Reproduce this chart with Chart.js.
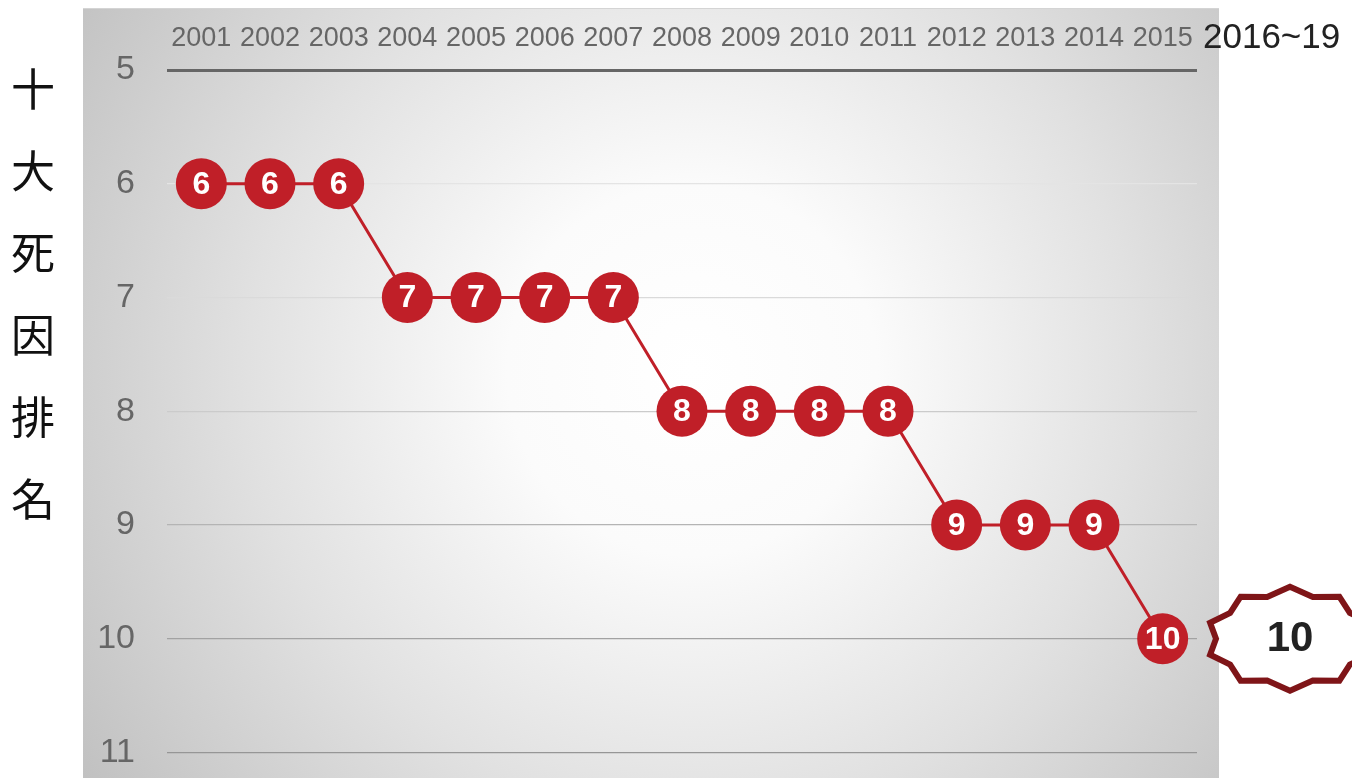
<!DOCTYPE html>
<html lang="zh-Hant">
<head>
<meta charset="utf-8">
<title>十大死因排名</title>
<script src="https://cdn.jsdelivr.net/npm/chart.js@4/dist/chart.umd.min.js"></script>
<style>
    html, body { margin: 0; padding: 0; background: #fff; }
    #wrap { position: relative; width: 1352px; height: 778px; overflow: hidden; }
    #title {
        position: absolute; left: 0; top: 46px; width: 66px;
        font-family: "Noto Sans CJK TC", "Noto Sans CJK SC", sans-serif;
        font-size: 44px; font-weight: 400; line-height: 82px;
        color: #111; text-align: center; z-index: 2;
    }
    canvas { position: absolute; left: 0; top: 0; }
</style>
</head>
<body>
<div id="wrap">
    <div id="title">十<br>大<br>死<br>因<br>排<br>名</div>
    <canvas id="rankChart"></canvas>
</div>
<script>
const years = ['2001', '2002', '2003', '2004', '2005', '2006', '2007', '2008',
    '2009', '2010', '2011', '2012', '2013', '2014', '2015'];
const ranks = [6, 6, 6, 7, 7, 7, 7, 8, 8, 8, 8, 9, 9, 9, 10];
const projectedLabel = '2016~19';
const projectedRank = 10;
const rankTicks = [5, 6, 7, 8, 9, 10, 11];

const RED = '#c01f28';
const DARK_RED = '#7f1518';
const FONT = '"Liberation Sans", Arial, sans-serif';

// grid line shade per rank (lines get darker toward the bottom)
const gridShade = { 5: '#666666', 6: '#e4e4e4', 7: '#dadada', 8: '#cbcbcb', 9: '#b4b4b4', 10: '#a2a2a2', 11: '#969696' };

const panelPlugin = {
    id: 'panel',
    beforeDraw(chart) {
        const { ctx, chartArea, height } = chart;
        const x0 = chartArea.left - 84;
        const x1 = chartArea.right + 22;
        const cx = chartArea.left + (chartArea.right - chartArea.left) * 0.51;
        const cy = 370;
        const g = ctx.createRadialGradient(cx, cy, 0, cx, cy, 740);
        g.addColorStop(0, '#ffffff');
        g.addColorStop(0.25, '#fbfbfb');
        g.addColorStop(0.6, '#e1e1e1');
        g.addColorStop(1, '#c0c0c0');
        ctx.save();
        ctx.fillStyle = g;
        ctx.fillRect(x0, 8, x1 - x0, height - 8);
        ctx.fillStyle = '#d4d4d4';
        ctx.fillRect(x0, 8, x1 - x0, 1);
        ctx.restore();
    }
};

const pointLabelPlugin = {
    id: 'pointLabels',
    afterDatasetsDraw(chart) {
        const { ctx } = chart;
        const meta = chart.getDatasetMeta(0);
        ctx.save();
        ctx.fillStyle = '#ffffff';
        ctx.font = 'bold 32px ' + FONT;
        ctx.textAlign = 'center';
        ctx.textBaseline = 'middle';
        meta.data.forEach((pt, i) => {
            ctx.fillText(String(ranks[i]), pt.x, pt.y + 1);
        });
        ctx.restore();
    }
};

// projected rank: year-range label and star badge right of the plot
const projectionPlugin = {
    id: 'projection',
    afterDraw(chart) {
        const { ctx, chartArea, scales } = chart;
        ctx.save();
        ctx.fillStyle = '#222';
        ctx.font = '35px ' + FONT;
        ctx.textAlign = 'left';
        ctx.textBaseline = 'middle';
        ctx.fillText(projectedLabel, chartArea.right + 6, 38);

        const cx = chartArea.right + 93;
        const cy = scales.y.getPixelForValue(projectedRank);
        const n = 10;
        ctx.beginPath();
        for (let k = 0; k < n * 2; k++) {
            const a = Math.PI / 2 + k * Math.PI / n;
            const outer = k % 2 === 0;
            const rx = outer ? 84 : 74;
            const ry = outer ? 52 : 44;
            const px = cx + Math.cos(a) * rx;
            const py = cy - Math.sin(a) * ry;
            if (k === 0) ctx.moveTo(px, py); else ctx.lineTo(px, py);
        }
        ctx.closePath();
        ctx.fillStyle = '#ffffff';
        ctx.fill();
        ctx.lineWidth = 6;
        ctx.lineJoin = 'miter';
        ctx.strokeStyle = DARK_RED;
        ctx.stroke();

        ctx.fillStyle = '#222';
        ctx.font = 'bold 42px ' + FONT;
        ctx.textAlign = 'center';
        ctx.fillText(String(projectedRank), cx, cy + 1);
        ctx.restore();
    }
};

const ctx = document.getElementById('rankChart').getContext('2d');
new Chart(ctx, {
    type: 'line',
    data: {
        labels: years,
        datasets: [{
            data: ranks,
            borderColor: RED,
            borderWidth: 3,
            backgroundColor: RED,
            pointRadius: 25.5,
            pointHoverRadius: 25.5,
            pointBackgroundColor: RED,
            pointBorderWidth: 0,
            tension: 0,
            clip: false
        }]
    },
    options: {
        responsive: true,
        maintainAspectRatio: false,
        animation: false,
        devicePixelRatio: 1,
        layout: { padding: { left: 0, top: 0, right: 155, bottom: 25 } },
        plugins: {
            legend: { display: false },
            tooltip: { enabled: false }
        },
        scales: {
            x: {
                position: 'top',
                offset: true,
                afterFit: s => { s.height = 70; },
                grid: { display: false, drawTicks: false },
                border: { display: false },
                ticks: {
                    color: '#666',
                    font: { family: FONT, size: 27 },
                    padding: 15,
                    autoSkip: false,
                    maxRotation: 0
                }
            },
            y: {
                reverse: true,
                min: rankTicks[0],
                max: rankTicks[rankTicks.length - 1],
                afterFit: s => {
                    s.width = 167;
                    s.paddingTop = 0;
                    s.paddingBottom = 0;
                },
                afterBuildTicks: s => { s.ticks = rankTicks.map(v => ({ value: v })); },
                grid: {
                    drawTicks: false,
                    color: c => gridShade[c.tick.value] || '#ccc',
                    lineWidth: c => (c.tick.value === rankTicks[0] ? 3 : 1.2)
                },
                border: { display: false },
                ticks: {
                    color: '#666',
                    font: { family: FONT, size: 34 },
                    padding: 32
                }
            }
        }
    },
    plugins: [panelPlugin, pointLabelPlugin, projectionPlugin]
});
</script>
</body>
</html>
